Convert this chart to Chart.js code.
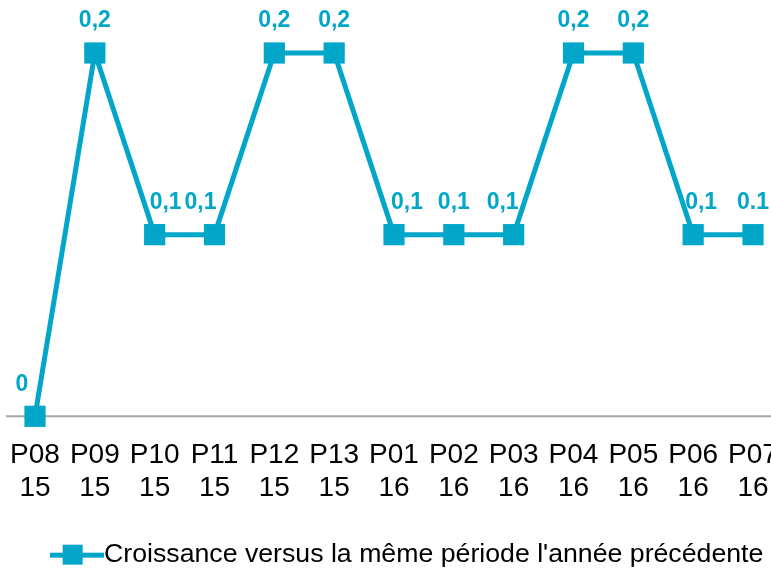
<!DOCTYPE html>
<html>
<head>
<meta charset="utf-8">
<script src="https://cdn.jsdelivr.net/npm/chart.js@4.4.1/dist/chart.umd.min.js"></script>
<style>
  html, body { margin: 0; padding: 0; background: #fff; overflow: hidden; }
  #wrap { width: 820px; height: 570px; }
</style>
</head>
<body>
<div id="wrap"><canvas id="chart"></canvas></div>
<script>
// Categories (period / year) and values
const periods = ['P08', 'P09', 'P10', 'P11', 'P12', 'P13', 'P01', 'P02', 'P03', 'P04', 'P05', 'P06', 'P07'];
const years = ['15', '15', '15', '15', '15', '15', '16', '16', '16', '16', '16', '16', '16'];
const growth = [0, 0.2, 0.1, 0.1, 0.2, 0.2, 0.1, 0.1, 0.1, 0.2, 0.2, 0.1, 0.1];
const growthLabels = ['0', '0,2', '0,1', '0,1', '0,2', '0,2', '0,1', '0,1', '0,1', '0,2', '0,2', '0,1', '0.1'];
const seriesName = "Croissance versus la même période l'année précédente";

const teal = '#02a6c8';
const fontFamily = '"Liberation Sans", Arial, sans-serif';

// small horizontal nudges for the value labels, as placed in the original
const labelNudge = [-13, 0, 11, -14, 0, 0, 13, 0, -11, 0, 0, 8, 0];

// legend marker: line with a square in the middle
function legendMarker() {
    const c = document.createElement('canvas');
    c.width = 62;
    c.height = 22;
    const g = c.getContext('2d');
    g.fillStyle = teal;
    g.fillRect(0, 9, 62, 5);
    g.fillRect(21, 1, 20, 20);
    return c;
}

// draws the value labels above each point
const valueLabels = {
    id: 'valueLabels',
    afterDatasetsDraw(chart) {
        const ctx = chart.ctx;
        const meta = chart.getDatasetMeta(0);
        ctx.save();
        ctx.font = 'bold 23px ' + fontFamily;
        ctx.fillStyle = teal;
        ctx.textAlign = 'center';
        ctx.textBaseline = 'middle';
        meta.data.forEach((pt, i) => {
            ctx.fillText(growthLabels[i], pt.x + labelNudge[i], pt.y - 32);
        });
        ctx.restore();
    }
};

// grey baseline at zero, running the full width
const baseline = {
    id: 'baseline',
    beforeDatasetsDraw(chart) {
        const ctx = chart.ctx;
        const y = chart.scales.y.getPixelForValue(0);
        ctx.save();
        ctx.strokeStyle = '#a6a6a6';
        ctx.lineWidth = 2;
        ctx.beginPath();
        ctx.moveTo(6, y);
        ctx.lineTo(chart.width, y);
        ctx.stroke();
        ctx.restore();
    }
};

// legend sits a little right of the plot centre in the original
const legendShift = {
    id: 'legendShift',
    afterLayout(chart) {
        chart.legend.left += 15;
        chart.legend.right += 15;
    }
};

new Chart(document.getElementById('chart'), {
    type: 'line',
    data: {
        labels: periods.map((p, i) => [p, years[i]]),
        datasets: [{
            label: seriesName,
            data: growth,
            borderColor: teal,
            backgroundColor: teal,
            borderWidth: 5,
            pointStyle: 'rect',
            pointRadius: 15,
            pointHoverRadius: 15,
            pointBorderWidth: 0,
            tension: 0,
            clip: false
        }]
    },
    options: {
        responsive: true,
        maintainAspectRatio: false,
        animation: false,
        layout: { padding: { top: 53, left: 35, right: 67, bottom: -8 } },
        scales: {
            x: {
                grid: { display: false },
                border: { display: false },
                ticks: {
                    color: '#000',
                    padding: 14,
                    maxRotation: 0,
                    autoSkip: false,
                    font: { family: fontFamily, size: 28, lineHeight: 1.18 }
                },
                afterFit: s => { s.paddingLeft = 0; s.paddingRight = 0; s.height = 125; }
            },
            y: {
                display: false,
                min: 0,
                max: 0.2
            }
        },
        plugins: {
            legend: {
                position: 'bottom',
                labels: {
                    usePointStyle: true,
                    pointStyle: legendMarker(),
                    pointStyleWidth: 36,
                    color: '#000',
                    padding: 0,
                    font: { family: fontFamily, size: 26.7 }
                }
            },
            tooltip: { enabled: false }
        }
    },
    plugins: [baseline, valueLabels, legendShift]
});
</script>
</body>
</html>
